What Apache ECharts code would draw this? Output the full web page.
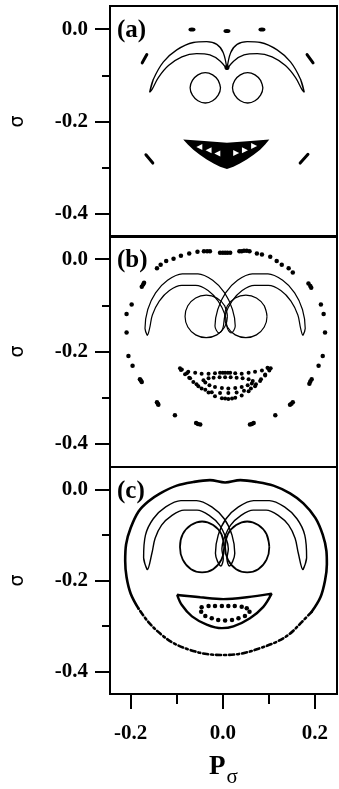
<!DOCTYPE html>
<html>
<head>
<meta charset="utf-8">
<script src="https://cdn.jsdelivr.net/npm/echarts@6/dist/echarts.min.js"></script>
<style>
  html, body { margin: 0; padding: 0; background: #fff; }
  #main { width: 339px; height: 789px; }
</style>
</head>
<body>
<div id="main"></div>
<script>
// tick values
var xMajor = [-0.2, 0, 0.2];
var xMinor = [-0.1, 0.1];
var yMajor = [-0.4, -0.2, 0];
var yMinor = [-0.3, -0.1];

// ---- panel (a) ----
var dotsA = [[-0.067, -0.001], [0.009, -0.004], [0.085, -0.001]];
var dashA = [
  [[-0.175, -0.073], [-0.165, -0.055]],
  [[0.183, -0.055], [0.196, -0.073]],
  [[-0.167, -0.272], [-0.152, -0.290]],
  [[0.185, -0.271], [0.168, -0.290]]
];
var browAL = [[-0.159, -0.137], [-0.151, -0.109], [-0.129, -0.071], [-0.100, -0.045], [-0.064, -0.029], [-0.035, -0.027], [-0.013, -0.033], [0.001, -0.051], [0.009, -0.087], [-0.006, -0.069], [-0.028, -0.056], [-0.057, -0.053], [-0.089, -0.060], [-0.118, -0.079], [-0.140, -0.105], [-0.154, -0.131]];
var browAR = [[0.177, -0.137], [0.169, -0.109], [0.147, -0.071], [0.118, -0.045], [0.082, -0.029], [0.053, -0.027], [0.031, -0.033], [0.017, -0.051], [0.009, -0.087], [0.024, -0.069], [0.046, -0.056], [0.075, -0.053], [0.107, -0.060], [0.136, -0.079], [0.158, -0.105], [0.172, -0.131]];
var eyeAL = [[-0.005, -0.127], [-0.010, -0.111], [-0.022, -0.099], [-0.038, -0.094], [-0.054, -0.099], [-0.066, -0.111], [-0.071, -0.127], [-0.066, -0.143], [-0.054, -0.155], [-0.038, -0.160], [-0.022, -0.155], [-0.010, -0.143]];
var eyeAR = [[0.087, -0.127], [0.082, -0.111], [0.070, -0.099], [0.054, -0.094], [0.038, -0.099], [0.026, -0.111], [0.021, -0.127], [0.026, -0.143], [0.038, -0.155], [0.054, -0.160], [0.070, -0.155], [0.082, -0.143]];
var mouthA = [[-0.086, -0.239], [-0.040, -0.242], [0.009, -0.246], [0.060, -0.242], [0.101, -0.239], [0.092, -0.250], [0.081, -0.261], [0.067, -0.272], [0.052, -0.282], [0.037, -0.291], [0.023, -0.298], [0.009, -0.303], [-0.006, -0.298], [-0.020, -0.291], [-0.035, -0.282], [-0.050, -0.272], [-0.064, -0.261], [-0.076, -0.250]];
var teethL = [[-0.051, -0.255], [-0.031, -0.262], [-0.012, -0.269]];
var teethR = [[0.029, -0.268], [0.048, -0.262], [0.068, -0.253]];

// ---- panel (b) ----
var ringB = [[-0.143, -0.020], [-0.135, -0.012], [-0.123, -0.004], [-0.107, 0.001], [-0.091, 0.007], [-0.073, 0.012], [-0.055, 0.016], [-0.041, 0.017], [-0.034, 0.017], [-0.028, 0.017], [-0.006, 0.014], [0.000, 0.014], [0.005, 0.014], [0.010, 0.014], [0.016, 0.014], [0.036, 0.017], [0.041, 0.017], [0.046, 0.018], [0.052, 0.018], [0.058, 0.017], [0.074, 0.012], [0.085, 0.010], [0.103, 0.005], [0.117, -0.004], [0.128, -0.012], [0.143, -0.020], [0.152, -0.029],
  [0.186, -0.053], [0.190, -0.058], [0.192, -0.062], [0.213, -0.098], [0.219, -0.119], [0.222, -0.159], [0.217, -0.210], [0.208, -0.231],
  [0.193, -0.260], [0.190, -0.265], [0.188, -0.270], [0.152, -0.310], [0.149, -0.313], [0.146, -0.315], [0.114, -0.338],
  [0.067, -0.355], [0.063, -0.357], [0.059, -0.358], [-0.049, -0.358], [-0.054, -0.357], [-0.058, -0.355], [-0.104, -0.338],
  [-0.143, -0.310], [-0.141, -0.313], [-0.140, -0.315], [-0.180, -0.260], [-0.178, -0.263], [-0.176, -0.266],
  [-0.196, -0.231], [-0.205, -0.210], [-0.209, -0.159], [-0.209, -0.119], [-0.198, -0.098], [-0.176, -0.060], [-0.173, -0.055], [-0.171, -0.051]];
var browBL = [[-0.164, -0.165], [-0.169, -0.150], [-0.163, -0.109], [-0.146, -0.073], [-0.120, -0.046], [-0.088, -0.032], [-0.054, -0.032], [-0.022, -0.046], [0.004, -0.073], [0.021, -0.109], [0.027, -0.145], [0.018, -0.160], [0.010, -0.150], [0.005, -0.121], [-0.010, -0.091], [-0.032, -0.068], [-0.059, -0.057], [-0.089, -0.057], [-0.116, -0.068], [-0.138, -0.091], [-0.153, -0.121], [-0.159, -0.150]];
var browBR = [[0.174, -0.165], [0.179, -0.150], [0.173, -0.109], [0.156, -0.073], [0.130, -0.046], [0.098, -0.032], [0.064, -0.032], [0.032, -0.046], [0.006, -0.073], [-0.011, -0.109], [-0.017, -0.145], [-0.008, -0.160], [0.000, -0.150], [0.005, -0.121], [0.020, -0.091], [0.042, -0.068], [0.069, -0.057], [0.099, -0.057], [0.126, -0.068], [0.148, -0.091], [0.163, -0.121], [0.169, -0.150]];
var eyeBL = [[0.010, -0.124], [0.004, -0.101], [-0.013, -0.084], [-0.036, -0.078], [-0.059, -0.084], [-0.076, -0.101], [-0.082, -0.124], [-0.076, -0.147], [-0.059, -0.164], [-0.036, -0.170], [-0.013, -0.164], [0.004, -0.147]];
var eyeBR = [[0.096, -0.124], [0.090, -0.101], [0.073, -0.084], [0.050, -0.078], [0.027, -0.084], [0.010, -0.101], [0.004, -0.124], [0.010, -0.147], [0.027, -0.164], [0.050, -0.170], [0.073, -0.164], [0.090, -0.147]];
var mouthBTop = [[-0.093, -0.236], [-0.091, -0.240], [-0.089, -0.239], [-0.075, -0.244], [-0.060, -0.246], [-0.046, -0.248], [-0.031, -0.248], [-0.017, -0.247], [-0.006, -0.246], [0.000, -0.246], [0.005, -0.246], [0.011, -0.246], [0.016, -0.246], [0.027, -0.247], [0.041, -0.248], [0.056, -0.246], [0.070, -0.244], [0.085, -0.241], [0.099, -0.237], [0.097, -0.235], [0.104, -0.236]];
var mouthBInner = [[-0.042, -0.262], [-0.031, -0.258], [-0.020, -0.257], [-0.007, -0.256], [0.005, -0.256], [0.017, -0.256], [0.030, -0.257], [0.043, -0.258], [0.056, -0.260], [0.065, -0.264], [0.063, -0.269], [0.054, -0.273], [0.041, -0.277], [0.027, -0.279], [0.012, -0.280], [-0.002, -0.279], [-0.017, -0.277], [-0.029, -0.273], [-0.038, -0.267]];
var mouthBMid = [[-0.078, -0.247], [-0.073, -0.257], [-0.064, -0.266], [-0.053, -0.275], [-0.038, -0.283], [-0.024, -0.288], [-0.006, -0.290], [0.012, -0.290], [0.030, -0.289], [0.046, -0.285], [0.061, -0.280], [0.072, -0.271], [0.083, -0.260], [0.092, -0.250]];
var mouthBOuter = [[-0.082, -0.249], [-0.071, -0.258], [-0.057, -0.271], [-0.046, -0.280], [-0.031, -0.289], [-0.017, -0.297], [-0.002, -0.301], [0.005, -0.302], [0.012, -0.303], [0.020, -0.302], [0.027, -0.300], [0.041, -0.295], [0.056, -0.286], [0.070, -0.275], [0.081, -0.264], [0.092, -0.252], [0.101, -0.241]];

// ---- panel (c) ----
var ringCTop = [[-0.183, -0.262], [-0.200, -0.229], [-0.209, -0.193], [-0.212, -0.157], [-0.210, -0.120], [-0.200, -0.084], [-0.183, -0.048], [-0.162, -0.026], [-0.136, -0.008], [-0.100, 0.009], [-0.064, 0.017], [-0.028, 0.021], [0.005, 0.016], [0.038, 0.021], [0.074, 0.017], [0.110, 0.009], [0.146, -0.008], [0.175, -0.030], [0.201, -0.062], [0.217, -0.099], [0.225, -0.135], [0.226, -0.164], [0.222, -0.200], [0.212, -0.237], [0.193, -0.269]];
var ringCBottom = [[0.193, -0.269], [0.172, -0.291], [0.146, -0.317], [0.117, -0.335], [0.081, -0.349], [0.045, -0.360], [0.005, -0.364], [-0.035, -0.362], [-0.071, -0.353], [-0.107, -0.338], [-0.136, -0.317], [-0.162, -0.291], [-0.183, -0.262]];
var browCL = [[-0.164, -0.176], [-0.172, -0.150], [-0.168, -0.100], [-0.151, -0.064], [-0.124, -0.038], [-0.091, -0.024], [-0.057, -0.024], [-0.024, -0.038], [0.003, -0.064], [0.020, -0.100], [0.026, -0.140], [0.014, -0.168], [0.009, -0.152], [0.012, -0.130], [0.007, -0.107], [-0.007, -0.078], [-0.029, -0.057], [-0.056, -0.045], [-0.084, -0.045], [-0.111, -0.057], [-0.133, -0.078], [-0.147, -0.107], [-0.154, -0.140]];
var browCR = [[0.174, -0.176], [0.182, -0.150], [0.178, -0.100], [0.161, -0.064], [0.134, -0.038], [0.101, -0.024], [0.067, -0.024], [0.034, -0.038], [0.007, -0.064], [-0.010, -0.100], [-0.016, -0.140], [-0.004, -0.168], [0.001, -0.152], [-0.002, -0.130], [0.003, -0.107], [0.017, -0.078], [0.039, -0.057], [0.066, -0.045], [0.094, -0.045], [0.121, -0.057], [0.143, -0.078], [0.157, -0.107], [0.164, -0.140]];
var eyeCL = [[0.003, -0.126], [-0.003, -0.098], [-0.021, -0.078], [-0.045, -0.070], [-0.069, -0.078], [-0.087, -0.098], [-0.093, -0.126], [-0.087, -0.154], [-0.069, -0.175], [-0.045, -0.182], [-0.021, -0.175], [-0.003, -0.154]];
var eyeCR = [[0.101, -0.126], [0.095, -0.098], [0.077, -0.078], [0.053, -0.070], [0.029, -0.078], [0.011, -0.098], [0.005, -0.126], [0.011, -0.154], [0.029, -0.175], [0.053, -0.182], [0.077, -0.175], [0.095, -0.154]];
var mouthC = [[-0.099, -0.232], [-0.049, -0.237], [0.001, -0.241], [0.052, -0.237], [0.106, -0.229], [0.088, -0.258], [0.059, -0.283], [0.023, -0.301], [-0.002, -0.305], [-0.035, -0.297], [-0.067, -0.279], [-0.089, -0.254]];
var mouthCDots = [[-0.046, -0.259], [-0.031, -0.256], [-0.017, -0.256], [-0.002, -0.256], [0.012, -0.256], [0.026, -0.256], [0.041, -0.258], [0.052, -0.261], [0.058, -0.269], [0.048, -0.278], [0.034, -0.283], [0.020, -0.287], [0.005, -0.288], [-0.010, -0.287], [-0.024, -0.283], [-0.038, -0.278], [-0.047, -0.269]];

var serif = '"Liberation Serif", "Times New Roman", serif';
var gridTops = [6, 236, 467];

window.onload = function () {
  var myChart = echarts.init(document.getElementById('main'));

  var grids = [], xAxes = [], yAxes = [];
  gridTops.forEach(function (top, g) {
    grids.push({ left: 110, top: top, width: 227, height: 231, show: true, borderColor: '#000', borderWidth: 2 });
    var last = g === 2;
    xAxes.push({
      type: 'value', gridIndex: g, min: -0.245, max: 0.248, position: 'bottom',
      axisLine: { show: false, onZero: false },
      splitLine: { show: false },
      axisTick: { show: last, customValues: xMajor, length: 15, lineStyle: { color: '#000', width: 2 } },
      axisLabel: {
        show: last, customValues: xMajor, margin: 29, color: '#000',
        fontFamily: serif, fontWeight: 'bold', fontSize: 21,
        formatter: function (v) { return v.toFixed(1); }
      },
      name: last ? '{p|P}{s|σ}' : '',
      nameLocation: 'middle', nameGap: 53,
      nameTextStyle: {
        rich: {
          p: { fontFamily: serif, fontWeight: 'bold', fontSize: 27, color: '#000' },
          s: { fontFamily: serif, fontSize: 21, color: '#000', padding: [20, 0, 0, 1] }
        }
      }
    });
    yAxes.push({
      type: 'value', gridIndex: g, min: -0.45, max: 0.05, position: 'left',
      axisLine: { show: false, onZero: false },
      splitLine: { show: false },
      axisTick: { show: true, customValues: yMajor, length: 15, lineStyle: { color: '#000', width: 2 } },
      axisLabel: {
        customValues: yMajor, margin: 22, color: '#000',
        fontFamily: serif, fontWeight: 'bold', fontSize: 21,
        formatter: function (v) { return v.toFixed(1); }
      },
      name: 'σ', nameLocation: 'middle', nameGap: 82,
      nameTextStyle: { fontFamily: '"DejaVu Sans", sans-serif', fontSize: 19, color: '#000' }
    });
    yAxes.push({
      type: 'value', gridIndex: g, min: -0.45, max: 0.05, position: 'left',
      axisLine: { show: false, onZero: false },
      splitLine: { show: false },
      axisTick: { show: true, customValues: yMinor, length: 8, lineStyle: { color: '#000', width: 2 } },
      axisLabel: { show: false }
    });
  });
  // short ticks on the bottom axis
  xAxes.push({
    type: 'value', gridIndex: 2, min: -0.245, max: 0.248, position: 'bottom',
    axisLine: { show: false, onZero: false }, splitLine: { show: false },
    axisTick: { show: true, customValues: xMinor, length: 10, lineStyle: { color: '#000', width: 2 } },
    axisLabel: { show: false }
  });

  function loop(pts, g, w) {
    return { type: 'line', xAxisIndex: g, yAxisIndex: 2 * g, data: pts.concat([pts[0], pts[1]]), smooth: 0.35,
      symbol: 'none', silent: true, lineStyle: { color: '#000', width: w } };
  }
  function path(pts, g, w, dash) {
    return { type: 'line', xAxisIndex: g, yAxisIndex: 2 * g, data: pts, smooth: 0.35, symbol: 'none', silent: true,
      lineStyle: { color: '#000', width: w, type: dash || 'solid', cap: 'round' } };
  }
  function dots(pts, g, size, color, sym, rot) {
    return { type: 'scatter', xAxisIndex: g, yAxisIndex: 2 * g, data: pts, symbol: sym || 'circle',
      symbolSize: size, symbolRotate: rot || 0, silent: true, z: 5, itemStyle: { color: color || '#000', opacity: 1 } };
  }

  var series = [];
  // (a)
  series.push(dots(dotsA, 0, [7, 4]));
  dashA.forEach(function (seg) { series.push(path(seg, 0, 3)); });
  series.push(loop(browAL, 0, 1.3), loop(browAR, 0, 1.3), loop(eyeAL, 0, 1.3), loop(eyeAR, 0, 1.3));
  series.push(dots([[0.009, -0.083]], 0, 5));
  series.push({
    type: 'custom', xAxisIndex: 0, yAxisIndex: 0, data: mouthA, silent: true, z: 4,
    renderItem: function (params, api) {
      if (params.dataIndex !== 0) return null;
      return { type: 'polygon', shape: { points: mouthA.map(function (p) { return api.coord(p); }) }, style: { fill: '#000' } };
    }
  });
  series.push(dots(teethL, 0, 6, '#fff', 'triangle', 90), dots(teethR, 0, 6, '#fff', 'triangle', -90));
  // (b)
  series.push(dots(ringB, 1, 4.5));
  series.push(loop(browBL, 1, 1.2), loop(browBR, 1, 1.2), loop(eyeBL, 1, 1.2), loop(eyeBR, 1, 1.2));
  series.push(dots(mouthBTop, 1, 4), dots(mouthBInner, 1, 4), dots(mouthBMid, 1, 4), dots(mouthBOuter, 1, 4));
  // (c)
  series.push(path(ringCTop, 2, 2.6), path(ringCBottom, 2, 2.6, [5, 3, 2, 3]));
  series.push(loop(browCL, 2, 1.4), loop(browCR, 2, 1.4), loop(eyeCL, 2, 1.8), loop(eyeCR, 2, 1.8));
  series.push(loop(mouthC, 2, 2.4), dots(mouthCDots, 2, 4.5));

  var labelFont = 'bold 25px ' + serif;
  var option = {
    animation: false,
    backgroundColor: '#fff',
    grid: grids,
    xAxis: xAxes,
    yAxis: yAxes,
    graphic: [
      { type: 'text', left: 117, top: 18, style: { text: '(a)', font: labelFont, fill: '#000' } },
      { type: 'text', left: 117, top: 248, style: { text: '(b)', font: labelFont, fill: '#000' } },
      { type: 'text', left: 117, top: 479, style: { text: '(c)', font: labelFont, fill: '#000' } }
    ],
    series: series
  };
  myChart.setOption(option);
};
</script>
</body>
</html>
